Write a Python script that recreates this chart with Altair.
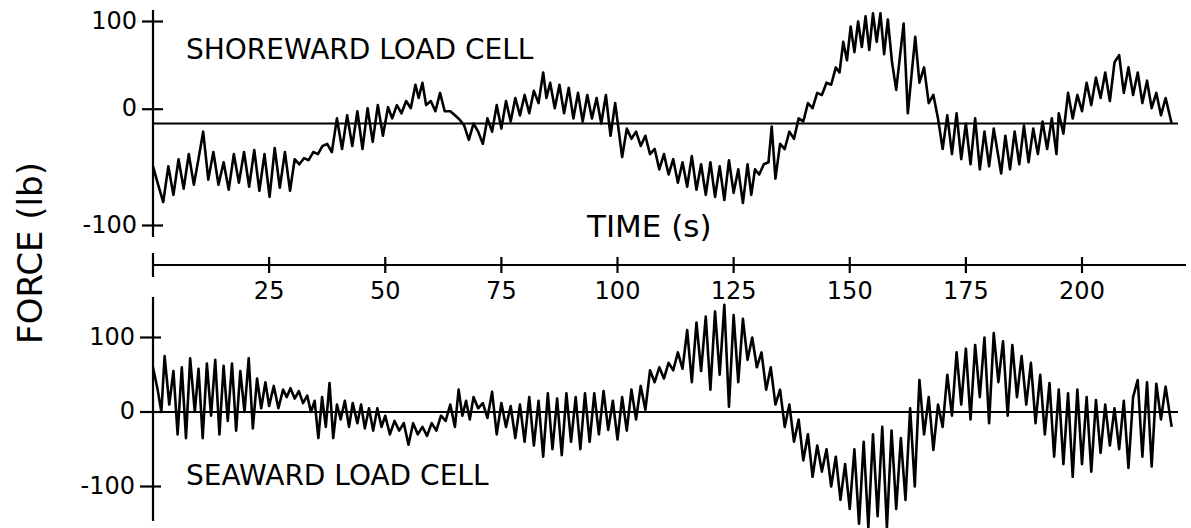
import altair as alt
import pandas as pd

# ---------------- data (time s, force lb) ----------------
shoreward = [
    (0, -42), (1.1, -60), (2.2, -77), (3.3, -42), (4.4, -70), (5.5, -35), (6.6, -64), (7.7, -30),
    (8.8, -60), (9.9, -32), (10.8, -8), (11.9, -55), (13, -28), (14.1, -60), (15.2, -38), (16.3, -65),
    (17.4, -30), (18.5, -58), (19.6, -28), (20.7, -62), (21.8, -26), (22.9, -66), (24, -30), (25.1, -72),
    (26.2, -24), (27.3, -63), (28.4, -28), (29.5, -66), (30.5, -35), (31.5, -40), (32.5, -34), (33.5, -36),
    (34.5, -28), (35.5, -30), (36.5, -22), (37.5, -20), (38.5, -28), (39.6, 5), (40.7, -25), (41.8, 8),
    (42.9, -22), (44, 12), (45.1, -25), (46.2, 15), (47.3, -18), (48.4, 18), (49.5, -12), (50.6, 16),
    (51.5, 5), (52.5, 18), (53.5, 10), (54.5, 22), (55.5, 15), (56.5, 38), (57.2, 25), (58, 40),
    (58.8, 18), (59.8, 22), (60.8, 12), (61.8, 30), (62.8, 12), (64, 12), (65, 8), (66, 4),
    (67, -2), (68, -16), (69, 0), (70, -8), (71, -20), (72, 5), (73, -8), (74, 18),
    (75, -5), (76, 22), (77, 2), (78, 25), (79, 8), (80, 28), (81, 10), (82, 32),
    (83, 20), (84, 50), (84.7, 25), (85.5, 40), (86.5, 15), (87.5, 38), (88.5, 10), (89.5, 35),
    (90.5, 5), (91.5, 30), (92.5, 2), (93.5, 28), (94.5, 5), (95.5, 25), (96.5, 0), (97.5, 28),
    (98.5, -12), (99.5, 20), (101, -33), (102, -5), (103, -15), (104, -8), (105, -22), (106, -12),
    (107, -30), (108, -25), (109, -45), (110, -30), (111, -50), (112, -35), (113, -58), (114, -38),
    (115, -62), (116, -32), (117, -65), (118, -40), (119, -70), (120, -38), (121, -72), (122, -42),
    (123, -75), (124, -36), (125, -68), (126, -45), (127, -78), (128, -40), (128.8, -70), (129.6, -45),
    (130.5, -50), (131.5, -40), (132.5, -38), (133.2, -3), (134, -54), (135, -20), (136, -25), (137, -8),
    (138, -15), (139, 5), (140, 2), (141, 20), (142, 15), (143, 30), (144, 28), (145, 40),
    (146, 38), (147, 55), (147.8, 50), (148.6, 80), (149.4, 62), (150.2, 95), (151, 70), (151.8, 100),
    (152.6, 75), (153.4, 105), (154.2, 72), (155, 108), (155.8, 80), (156.6, 108), (157.4, 68), (158.2, 102),
    (159.1, 60), (160, 33), (161.6, 98), (162.5, 10), (164.1, 85), (165, 40), (166, 55), (167, 20),
    (168, 28), (169, 5), (170, -25), (171, 8), (172, -30), (173, 10), (174, -35), (175, 0),
    (176, -40), (177, 5), (178, -45), (179, -8), (180, -42), (181, -5), (182.6, -49), (183.5, -12),
    (184.5, -45), (185.5, -8), (186.5, -40), (187.5, -2), (188.5, -38), (189.5, -5), (190.5, -30), (191.5, 2),
    (192.5, -25), (193.5, 5), (194.5, -30), (195, 10), (196, -10), (197, 30), (198, 5), (199, 28),
    (200, 12), (201, 40), (202, 18), (203, 45), (204, 25), (205, 50), (206, 22), (207, 60),
    (208, 67), (209, 30), (210, 55), (211, 28), (212, 50), (213, 20), (214, 42), (215, 15),
    (216, 30), (217, 8), (218, 25), (219.3, 0),
]

seaward = [
    (0, 60), (1, 30), (1.8, 0), (2.5, 75), (3.5, 10), (4.4, 55), (5.3, -30), (6.2, 60),
    (7.1, -35), (8, 72), (9, 0), (9.8, 58), (10.7, -35), (11.6, 65), (12.5, -5), (13.4, 70),
    (14.3, -30), (15.2, 62), (16.1, -12), (17, 65), (17.9, -25), (18.8, 55), (19.7, 0), (20.6, 72),
    (21.5, -22), (22.4, 45), (23.3, 5), (24.2, 40), (25, 8), (26, 35), (27, 5), (28, 30),
    (28.8, 20), (29.6, 32), (30.5, 18), (31.4, 28), (32.3, 12), (33.2, 22), (34, 0), (34.8, 15),
    (35.6, -35), (36.4, 20), (37.2, -20), (38, 39), (38.8, -35), (39.6, 10), (40.4, -10), (41.3, 15),
    (42.2, -20), (43, 12), (44, -15), (44.8, 10), (45.6, -22), (46.5, 5), (47.4, -25), (48.3, 5),
    (49.2, -20), (50, -5), (51, -30), (52, -12), (53, -25), (54, -15), (55, -44), (56, -15),
    (57, -30), (58, -20), (59, -32), (60, -15), (61, -25), (62, -5), (63, -12), (64, 10),
    (65, -20), (65.8, 30), (66.6, -5), (67.4, 15), (68.2, -10), (69, 20), (70, 5), (71, 12),
    (72, -8), (73, 27), (74, -30), (75, 12), (76, -20), (77, 8), (78, -35), (79, 10),
    (80, -40), (81, 20), (82, -45), (83, 15), (84, -60), (85, 25), (86, -50), (87, 18),
    (88, -58), (89, 25), (90, -40), (91, 20), (92, -50), (93, 25), (94, -40), (95, 25),
    (96, -30), (97, 28), (98, -24), (99, 15), (100, -37), (101, 20), (102, -25), (103, 30),
    (104, -10), (105, 35), (106, 3), (107, 56), (108, 40), (109, 60), (110, 45), (111, 66),
    (112, 56), (113, 80), (114, 58), (115, 110), (116, 40), (117, 120), (118, 55), (119, 128),
    (120, 30), (121, 135), (122, 50), (123, 144), (124, 7), (125, 130), (126, 40), (127, 125),
    (128, 70), (129, 100), (130, 60), (131, 80), (132, 30), (133, 60), (134, 10), (135, 30),
    (136, -20), (137, 10), (138, -40), (139, -10), (140, -65), (141, -30), (142, -87), (143, -45),
    (144, -80), (145, -50), (146, -100), (147, -60), (148, -118), (149, -70), (150, -130), (151, -50),
    (152, -150), (153, -40), (154, -155), (155, -30), (156, -140), (157, -20), (158, -155), (159, -25),
    (160, -130), (161, -35), (162, -118), (163, 5), (164, -100), (165, 43), (166, -30), (167, 20),
    (168, -51), (169, 10), (170, -20), (171, 50), (172, -5), (173, 80), (174, 10), (175, 85),
    (176, -10), (177, 90), (178, 20), (179, 100), (180, -15), (181, 106), (182, 40), (183, 95),
    (184, -5), (185, 90), (186, 20), (187, 75), (188, 10), (189, 66), (190, -15), (191, 50),
    (192, -30), (193, 39), (194, -60), (195, 30), (196, -70), (197, 25), (198, -87), (199, 30),
    (200, -70), (201, 20), (202, -80), (203, 16), (204, -55), (205, 10), (206, -45), (207, 5),
    (208, -50), (209, 15), (210, -75), (211, 20), (212, 43), (213, -60), (214, 40), (215, -73),
    (216, 38), (217, -10), (218, 34), (219.3, -20),
]

time_ticks = [25, 50, 75, 100, 125, 150, 175, 200]
top_tick_pos = [100, 14, -100]          # the printed "0" tick sits a little above the zero line
top_tick_text = ["100", "0", "-100"]
bot_tick_pos = [100, 0, -100]
bot_tick_text = ["100", "0", "-100"]

# ---------------- layout (pixel geometry of the figure) ----------------
W, H = 1191, 528
X0, KX = 153.0, 4.645            # x pixel of t=0, pixels per second
TZ, TK = 123.5, 1.02             # top panel: pixel of 0 lb, pixels per lb
BZ, BK = 412.0, 0.745            # bottom panel

XDOM = [-X0 / KX, (W - X0) / KX]
TDOM = [(TZ - H) / TK, TZ / TK]
BDOM = [(BZ - H) / BK, BZ / BK]

def tx(px):
    return (px - X0) / KX

def ty(py):
    return (TZ - py) / TK

def by(py):
    return (BZ - py) / BK

FONT = "DejaVu Sans"
LW = 2.6

xs = alt.Scale(domain=XDOM, nice=False, zero=False)
ts = alt.Scale(domain=TDOM, nice=False, zero=False)
bs = alt.Scale(domain=BDOM, nice=False, zero=False)


def X(f="x"):
    return alt.X(f, type="quantitative", scale=xs, axis=None)


def Y(scale, f="y"):
    return alt.Y(f, type="quantitative", scale=scale, axis=None)


def rules(rows, scale):
    df = pd.DataFrame(rows, columns=["x", "x2", "y", "y2"])
    return alt.Chart(df).mark_rule(color="black", strokeWidth=2.2).encode(
        x=X(), x2="x2:Q", y=Y(scale), y2="y2:Q")


def texts(rows, scale, size, align="left", angle=0):
    df = pd.DataFrame(rows, columns=["x", "y", "label"])
    return alt.Chart(df).mark_text(font=FONT, fontSize=size, align=align, baseline="middle",
                                   angle=angle, color="black").encode(
        x=X(), y=Y(scale), text="label:N")


shore_df = pd.DataFrame(shoreward, columns=["t", "f"])
sea_df = pd.DataFrame(seaward, columns=["t", "f"])

# ---------------- top panel ----------------
top_line = alt.Chart(shore_df).mark_line(color="black", strokeWidth=LW, strokeJoin="round").encode(
    x=X("t"), y=Y(ts, "f"))

top_rules = [
    (0, 0, ty(10), ty(237)),                 # y axis
    (0, tx(1178), 0, 0),                     # zero line
    (0, tx(1186), ty(265), ty(265)),         # time axis
    (0, 0, ty(253), ty(277)),                # time tick at origin
]
top_rules += [(tx(X0 - 11), tx(X0 + 10), v, v) for v in top_tick_pos]
top_rules += [(t, t, ty(257), ty(273)) for t in time_ticks]

top_labels = [(tx(137), v, s) for v, s in zip(top_tick_pos, top_tick_text)]
time_labels = [(t, ty(292), str(t)) for t in time_ticks]

top = alt.layer(
    rules(top_rules, ts),
    top_line,
    texts(top_labels, ts, 24, align="right"),
    texts(time_labels, ts, 24, align="center"),
    texts([(tx(186), ty(51), "SHOREWARD LOAD CELL")], ts, 28),
    texts([(tx(587), ty(228), "TIME (s)")], ts, 31),
    texts([(tx(32), ty(253), "FORCE (lb)")], ts, 34, align="center", angle=270),
)

# ---------------- bottom panel ----------------
bot_line = alt.Chart(sea_df).mark_line(color="black", strokeWidth=LW, strokeJoin="round").encode(
    x=X("t"), y=Y(bs, "f"))

bot_rules = [
    (0, 0, by(297), by(521)),
    (0, tx(1178), 0, 0),
]
bot_rules += [(tx(X0 - 13), tx(X0 + 8), v, v) for v in bot_tick_pos]
bot_labels = [(tx(135), v, s) for v, s in zip(bot_tick_pos, bot_tick_text)]

bottom = alt.layer(
    rules(bot_rules, bs),
    bot_line,
    texts(bot_labels, bs, 24, align="right"),
    texts([(tx(186), by(477), "SEAWARD LOAD CELL")], bs, 28),
)

chart = alt.layer(top, bottom).resolve_scale(y="independent").properties(
    width=W, height=H, autosize=alt.AutoSizeParams(type="none"), padding=0,
    background="white",
).configure_view(stroke=None)

chart.save("out.html", embed_options={"renderer": "svg", "actions": False})
